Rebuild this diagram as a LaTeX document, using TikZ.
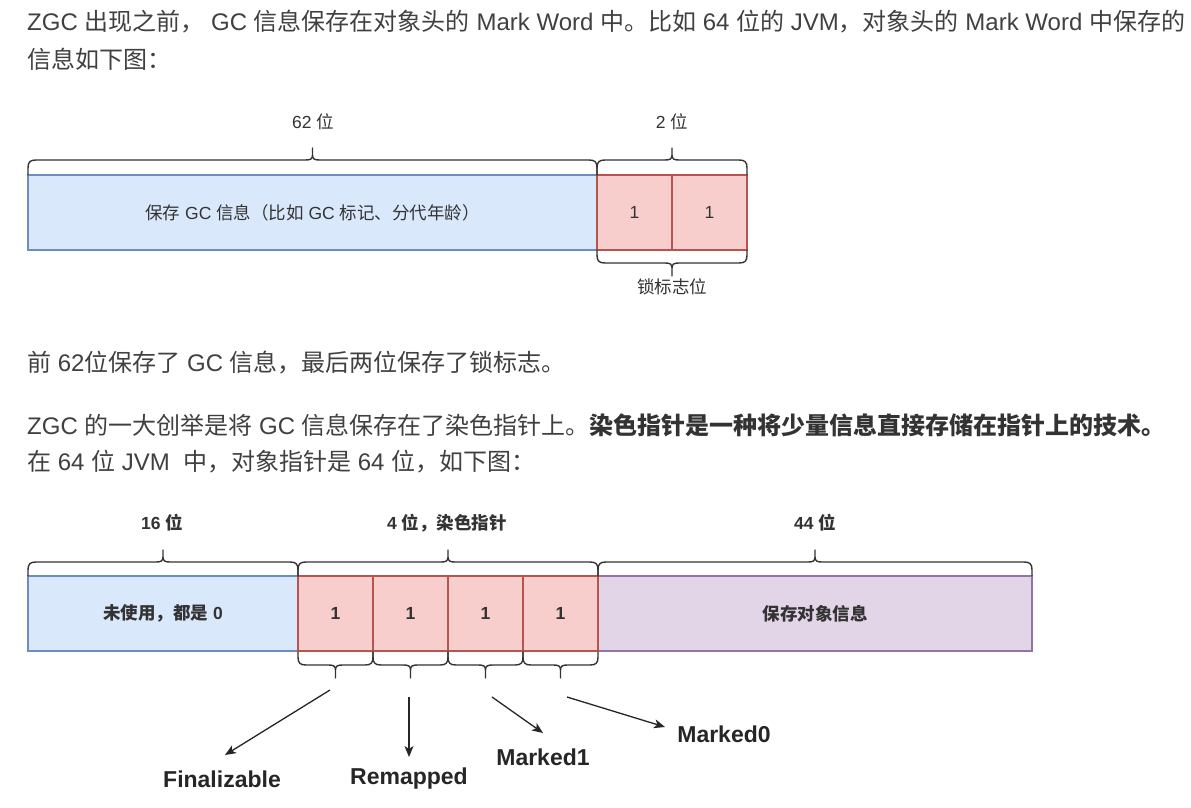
\documentclass[tikz,border=0pt]{standalone}
\usepackage{fontspec}
\setmainfont{Liberation Sans}
\newfontfamily\cjkfont{Noto Sans CJK SC}
\usetikzlibrary{arrows.meta}
\XeTeXinterchartokenstate=1
\newXeTeXintercharclass\cjkclass
\makeatletter
\count@="3000
\loop\XeTeXcharclass\count@=\cjkclass\advance\count@ by 1\ifnum\count@<"A000 \repeat
\count@="FF00
\loop\XeTeXcharclass\count@=\cjkclass\advance\count@ by 1\ifnum\count@<"FFF0 \repeat
\makeatother
\XeTeXinterchartoks 0 \cjkclass={\begingroup\cjkfont}
\XeTeXinterchartoks 4095 \cjkclass={\begingroup\cjkfont}
\XeTeXinterchartoks \cjkclass 0={\endgroup}
\XeTeXinterchartoks \cjkclass 4095={\endgroup}
\definecolor{bodytxt}{HTML}{404040}
\definecolor{boldtxt}{HTML}{333333}
\definecolor{dtxt}{HTML}{333333}
\definecolor{bfill}{HTML}{DAE8FC}
\definecolor{bline}{HTML}{6C8EBF}
\definecolor{rfill}{HTML}{F8CECC}
\definecolor{rline}{HTML}{B85450}
\definecolor{pfill}{HTML}{E1D5E7}
\definecolor{pline}{HTML}{9673A6}
% x1 x2 ybase yhoriz ytip sign
\newcommand\mybrace[6]{%
  \pgfmathsetmacro\xm{(#1+#2)/2}%
  \draw[brc] ({#1},{#3}) -- ({#1},{#4+8*(#6)}) .. controls ({#1},{#4+2*(#6)}) and ({#1+2},{#4}) .. ({#1+8},{#4})
    -- ({\xm-7},{#4}) .. controls ({\xm-2},{#4}) and ({\xm},{#4-1*(#6)}) .. ({\xm},{#4-5*(#6)}) -- ({\xm},{#5})
    -- ({\xm},{#4-5*(#6)}) .. controls ({\xm},{#4-1*(#6)}) and ({\xm+2},{#4}) .. ({\xm+7},{#4})
    -- ({#2-8},{#4}) .. controls ({#2-2},{#4}) and ({#2},{#4+2*(#6)}) .. ({#2},{#4+8*(#6)}) -- ({#2},{#3});}
\begin{document}
\begin{tikzpicture}[x=1pt,y=-1pt,
  body/.style={anchor=base west, inner sep=0, text=bodytxt, font=\fontsize{24}{28}\selectfont},
  lbl/.style={inner sep=0, text=dtxt, font=\fontsize{17.5}{20}\selectfont},
  blbl/.style={inner sep=0, text=dtxt, font=\fontsize{17.5}{20}\selectfont\bfseries},
  cell/.style={line width=1.1pt, minimum height=75pt, inner sep=0, anchor=center},
  bluecell/.style={cell, fill=bfill, draw=bline},
  redcell/.style={cell, fill=rfill, draw=rline, minimum width=75pt},
  purplecell/.style={cell, fill=pfill, draw=pline},
  brc/.style={draw=black!80, line width=1.4pt, line join=round, line cap=round},
  arr/.style={draw=black!85, line width=1.3pt, -{Stealth[length=11pt,width=9pt,inset=3pt]}},
  big/.style={inner sep=0, font=\fontsize{23}{26}\selectfont\bfseries, text=black!85}]
\useasboundingbox (0,0) rectangle (1191,808);
\fill[white] (0,0) rectangle (1191,808);
% body text
\node[body] (t1) at (27,31) {ZGC 出现之前， GC 信息保存在对象头的 Mark Word 中。比如 64 位的 JVM，对象头的 Mark Word 中保存的};
\node[body] (t2) at (27,69) {信息如下图：};
\node[body] (t3) at (27,371) {前 62位保存了 GC 信息，最后两位保存了锁标志。};
\node[body] (t4) at (27,434) {ZGC 的一大创举是将 GC 信息保存在了染色指针上。{\bfseries\color{boldtxt}染色指针是一种将少量信息直接存储在指针上的技术。}};
\node[body] (t5) at (27,470) {在 64 位 JVM\ \ 中，对象指针是 64 位，如下图：};
% diagram 1
\node[bluecell, minimum width=569pt, lbl] (a0) at (312.5,212.5) {保存 GC 信息（比如 GC 标记、分代年龄）};
\node[redcell, lbl] (a1) at (634.5,212.5) {1};
\node[redcell, lbl] (a2) at (709.5,212.5) {1};
\mybrace{28}{597}{175}{160}{148}{1}
\mybrace{597}{747}{175}{160}{148}{1}
\mybrace{597}{747}{250}{263}{276}{-1}
\node[lbl] (l62) at (313,122) {62 位};
\node[lbl] (l2) at (672,122) {2 位};
\node[lbl] (llock) at (672,287) {锁标志位};
% diagram 2
\node[bluecell, minimum width=270pt, blbl] (b0) at (163,613.5) {未使用，都是 0};
\node[purplecell, minimum width=434pt, blbl] (b5) at (815,613.5) {保存对象信息};
\node[redcell, blbl] (b1) at (335.5,613.5) {1};
\node[redcell, blbl] (b2) at (410.5,613.5) {1};
\node[redcell, blbl] (b3) at (485.5,613.5) {1};
\node[redcell, blbl] (b4) at (560.5,613.5) {1};
\mybrace{28}{298}{576}{562}{550}{1}
\mybrace{298}{598}{576}{562}{550}{1}
\mybrace{598}{1032}{576}{562}{550}{1}
\mybrace{298}{373}{652}{665}{678}{-1}
\mybrace{373}{448}{652}{665}{678}{-1}
\mybrace{448}{523}{652}{665}{678}{-1}
\mybrace{523}{598}{652}{665}{678}{-1}
\node[blbl] (l16) at (162,523) {16 位};
\node[blbl] (l4) at (447,523) {4 位，染色指针};
\node[blbl] (l44) at (815,523) {44 位};
% labels and arrows
\node[big] (fin) at (222,779) {Finalizable};
\node[big] (rem) at (409,779) {Remapped};
\node[big] (mk1) at (543,757) {Marked1};
\node[big] (mk0) at (724,734) {Marked0};
\coordinate (fs) at (330,690);
\coordinate (fe) at (225,755);
\coordinate (rs) at (409,697);
\coordinate (re) at (409,757);
\coordinate (m1s) at (492,697);
\coordinate (m1e) at (543,733);
\coordinate (m0s) at (567,697);
\coordinate (m0e) at (665,727);
\draw[arr] (fs) -- (fe);
\draw[arr] (rs) -- (re);
\draw[arr] (m1s) -- (m1e);
\draw[arr] (m0s) -- (m0e);
\end{tikzpicture}
\end{document}
